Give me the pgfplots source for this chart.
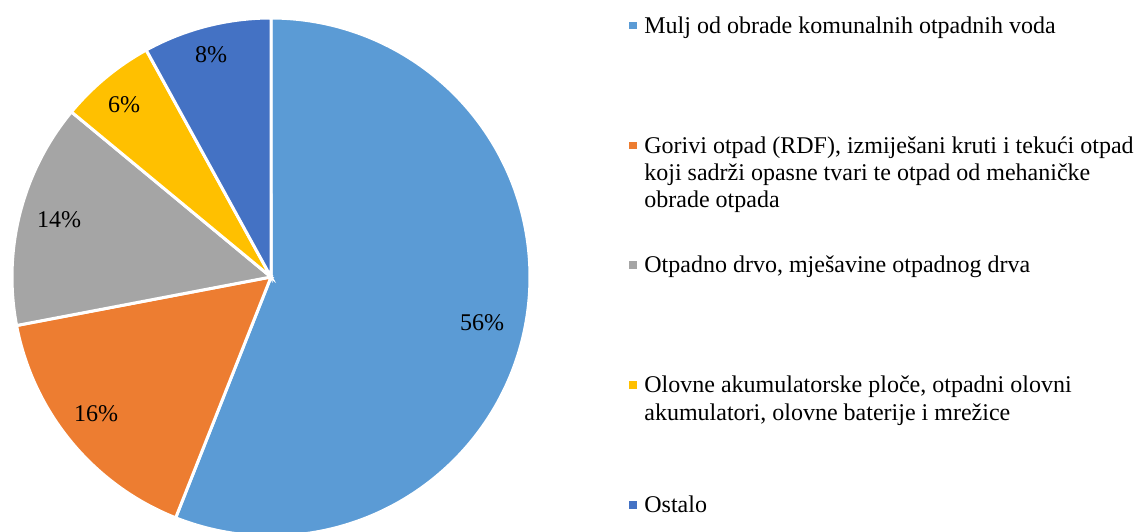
\documentclass[border=0pt]{standalone}
\usepackage{fontspec}
\setmainfont{Liberation Serif}
\usepackage{pgfplots}
\pgfplotsset{compat=1.18}
\definecolor{c1}{HTML}{5B9BD5}
\definecolor{c2}{HTML}{ED7D31}
\definecolor{c3}{HTML}{A5A5A5}
\definecolor{c4}{HTML}{FFC000}
\definecolor{c5}{HTML}{4472C4}
\begin{document}
\fontsize{12}{13.5}\selectfont
\begin{tikzpicture}[font=\fontsize{12}{13.5}\selectfont]
% pie geometry in pixel units (1 px = 0.5 pt)
\def\cx{271}\def\cy{254}\def\R{259}
% data (percent)
\def\va{56}\def\vb{16}\def\vc{14}\def\vd{6}\def\ve{8}
\pgfmathsetmacro\aA{90}
\pgfmathsetmacro\aB{\aA-3.6*\va}
\pgfmathsetmacro\aC{\aB-3.6*\vb}
\pgfmathsetmacro\aD{\aC-3.6*\vc}
\pgfmathsetmacro\aE{\aD-3.6*\vd}
\pgfmathsetmacro\aF{\aE-3.6*\ve}
\begin{axis}[at={(0,0)},anchor=south west,
  width=568.5pt,height=265.5pt,scale only axis,
  xmin=0,xmax=1137,ymin=0,ymax=531,hide axis]
\addplot[fill=c1,draw=white,line width=1.5pt,domain=\aB:\aA,samples=150,variable=\t]
  ({\cx+\R*cos(\t)},{\cy+\R*sin(\t)}) -- (axis cs:\cx,\cy) -- cycle;
\addplot[fill=c2,draw=white,line width=1.5pt,domain=\aC:\aB,samples=60,variable=\t]
  ({\cx+\R*cos(\t)},{\cy+\R*sin(\t)}) -- (axis cs:\cx,\cy) -- cycle;
\addplot[fill=c3,draw=white,line width=1.5pt,domain=\aD:\aC,samples=60,variable=\t]
  ({\cx+\R*cos(\t)},{\cy+\R*sin(\t)}) -- (axis cs:\cx,\cy) -- cycle;
\addplot[fill=c4,draw=white,line width=1.5pt,domain=\aE:\aD,samples=40,variable=\t]
  ({\cx+\R*cos(\t)},{\cy+\R*sin(\t)}) -- (axis cs:\cx,\cy) -- cycle;
\addplot[fill=c5,draw=white,line width=1.5pt,domain=\aF:\aE,samples=40,variable=\t]
  ({\cx+\R*cos(\t)},{\cy+\R*sin(\t)}) -- (axis cs:\cx,\cy) -- cycle;
\node at (axis cs:482,208) {56\%};
\node at (axis cs:96,117) {16\%};
\node at (axis cs:59,311) {14\%};
\node at (axis cs:124,426) {6\%};
\node at (axis cs:211,476) {8\%};
\end{axis}
% legend, pixel coordinates from the top-left corner
\begin{scope}[x=0.5pt,y=-0.5pt,shift={(0,265.5pt)}]
\foreach \yb/\col in {33.3/c1,153.2/c2,273/c3,393/c4,512.7/c5}{
  \fill[\col] (629.3,\yb-11.6) rectangle (636.8,\yb-4.1);
}
\node[anchor=base west,inner sep=0] at (644,33.3) {Mulj od obrade komunalnih otpadnih voda};
\node[anchor=base west,inner sep=0] at (644,153.2) {Gorivi otpad (RDF), izmiješani kruti i tekući otpad};
\node[anchor=base west,inner sep=0] at (644,180.2) {koji sadrži opasne tvari te otpad od mehaničke};
\node[anchor=base west,inner sep=0] at (644,207.2) {obrade otpada};
\node[anchor=base west,inner sep=0] at (644,273) {Otpadno drvo, mješavine otpadnog drva};
\node[anchor=base west,inner sep=0] at (644,393) {Olovne akumulatorske ploče, otpadni olovni};
\node[anchor=base west,inner sep=0] at (644,420) {akumulatori, olovne baterije i mrežice};
\node[anchor=base west,inner sep=0] at (644,512.7) {Ostalo};
\end{scope}
\pgfresetboundingbox
\path[use as bounding box] (0,0) rectangle (568.5pt,265.5pt);
\end{tikzpicture}
\end{document}
